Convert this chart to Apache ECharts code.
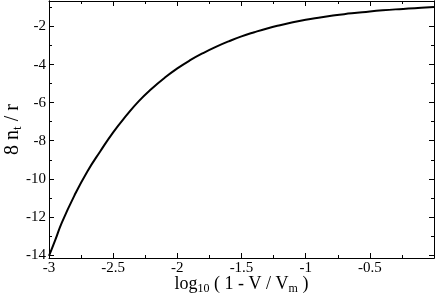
<!DOCTYPE html>
<html>
<head>
    <meta charset="utf-8">
    <title>8 nt / r vs log10(1 - V/Vm)</title>
    <script src="https://cdn.jsdelivr.net/npm/echarts@6.0.0/dist/echarts.min.js"></script>
    <style>
        html, body { margin: 0; padding: 0; background: #fff; }
        #main { width: 436px; height: 298px; }
    </style>
</head>
<body>
    <div id="main"></div>
    <script>
        // values
        const logV = [-3.0, -2.95, -2.9, -2.8, -2.7, -2.6, -2.5, -2.4, -2.3, -2.2, -2.1,
                      -2.0, -1.9, -1.8, -1.7, -1.6, -1.5, -1.4, -1.3, -1.2, -1.1,
                      -1.0, -0.9, -0.8, -0.7, -0.6, -0.5, -0.4, -0.3, -0.2, -0.1, 0.0];
        const ntr = [-14.05, -13.2, -12.3, -10.85, -9.6, -8.55, -7.56, -6.7, -5.92, -5.27, -4.7,
                     -4.2, -3.77, -3.4, -3.07, -2.78, -2.52, -2.3, -2.1, -1.93, -1.78,
                     -1.65, -1.54, -1.44, -1.35, -1.28, -1.21, -1.15, -1.1, -1.06, -1.02, -0.98];
        const yMajor = [-14, -12, -10, -8, -6, -4, -2];
        const yMinor = [-13, -11, -9, -7, -5, -3, -1];

        const font = 'Liberation Serif';
        const yMin = -14.16, yMax = -0.66;

        const chart = echarts.init(document.getElementById('main'));

        const yAxisBase = (pos, ticks, len, showLabel) => ({
            type: 'value',
            position: pos,
            min: yMin,
            max: yMax,
            axisLine: { show: true, onZero: false, lineStyle: { color: '#000', width: 1 } },
            axisTick: { show: true, inside: true, length: len, customValues: ticks, lineStyle: { color: '#000' } },
            axisLabel: {
                show: showLabel, customValues: ticks, margin: 3,
                color: '#000', fontFamily: font, fontSize: 15
            },
            splitLine: { show: false }
        });

        const data = logV.map((x, i) => [x, ntr[i]]);

        chart.setOption({
            animation: false,
            grid: { left: 49, right: 2, top: 1, bottom: 40, containLabel: false, outerBoundsMode: 'none' },
            xAxis: [{
                type: 'value',
                position: 'bottom',
                min: -3, max: 0, interval: 0.5,
                name: '{a|log}{s|10}{a| ( 1 - V / V}{s|m}{a| )}',
                nameLocation: 'middle',
                nameGap: 16,
                nameMoveOverlap: false,
                nameTextStyle: {
                    rich: {
                        a: { fontFamily: font, fontSize: 18, color: '#000' },
                        s: { fontFamily: font, fontSize: 12, color: '#000', padding: [9, 0, 0, 0] }
                    }
                },
                axisLine: { onZero: false, lineStyle: { color: '#000' } },
                axisTick: { inside: true, length: 5, lineStyle: { color: '#000' } },
                minorTick: { show: true, splitNumber: 2, length: 3, lineStyle: { color: '#000' } },
                axisLabel: { showMaxLabel: false, margin: 3, color: '#000', fontFamily: font, fontSize: 15 },
                splitLine: { show: false }
            }, {
                type: 'value',
                position: 'top',
                min: -3, max: 0, interval: 0.5,
                axisLine: { onZero: false, lineStyle: { color: '#000' } },
                axisTick: { inside: true, length: 5, lineStyle: { color: '#000' } },
                minorTick: { show: true, splitNumber: 2, length: 3, lineStyle: { color: '#000' } },
                axisLabel: { show: false },
                splitLine: { show: false }
            }],
            yAxis: [
                Object.assign(yAxisBase('left', yMajor, 5, true), {
                    name: '{a|8 n}{s|t}{a| / r}',
                    nameLocation: 'middle',
                    nameRotate: 90,
                    nameGap: 25,
                    nameMoveOverlap: false,
                    nameTextStyle: {
                        rich: {
                            a: { fontFamily: font, fontSize: 20, color: '#000' },
                            s: { fontFamily: font, fontSize: 13, color: '#000', padding: [10, 0, 0, 0] }
                        }
                    }
                }),
                yAxisBase('left', yMinor, 3, false),
                yAxisBase('right', yMajor, 5, false),
                yAxisBase('right', yMinor, 3, false)
            ],
            series: [{
                type: 'line',
                data: data,
                xAxisIndex: 0,
                yAxisIndex: 0,
                smooth: true,
                showSymbol: false,
                lineStyle: { color: '#000', width: 2 }
            }]
        });
    </script>
</body>
</html>
